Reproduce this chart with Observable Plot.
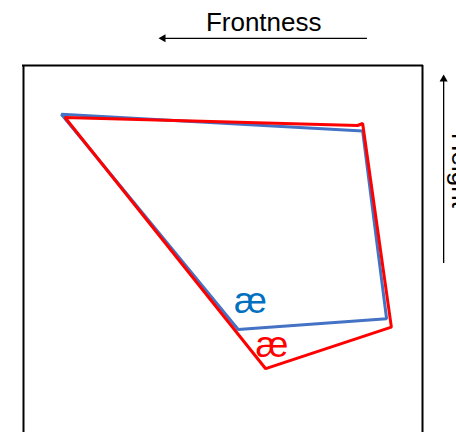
<!DOCTYPE html>
<html>
<head>
<meta charset="utf-8">
<script src="https://cdn.jsdelivr.net/npm/d3@7"></script>
<script src="https://cdn.jsdelivr.net/npm/@observablehq/plot@0.6"></script>
<style>
  html, body { margin: 0; padding: 0; background: #fff; overflow: hidden; }
  svg { font-family: Arial, "Liberation Sans", sans-serif; }
</style>
</head>
<body>
<div id="chart"></div>
<script>
// Vowel space (abstract units: frontness 0–100 left→right, height 0–100 bottom→top)
const blueX = [9.5, 85.0, 91.0, 53.8];
const blueY = [87.8, 83.6, 36.7, 34.0];
const redX  = [10.4, 83.7, 85.0, 92.2, 60.7];
const redY  = [87.0, 85.0, 85.5, 34.6, 24.2];

const vowelLabel = "æ";
const blueLabelPos = [56.9, 41.1];
const redLabelPos  = [62.3, 30.2];

const axisTitles = ["Frontness", "Height"];
// arrow annotations (data units)
const frontArrow = {x1: 86.2, x2: 35.5, y: 106.8};
const heightArrow = {x: 105.3, y1: 50.5, y2: 96.0};

const blue = blueX.map((x, i) => ({x, y: blueY[i]}));
const red = redX.map((x, i) => ({x, y: redY[i]}));

const chart = Plot.plot({
  width: 456,
  height: 432,
  margin: 0,
  x: {domain: [0, 100], range: [23, 422], axis: null},
  y: {domain: [0, 100], range: [465, 65], axis: null},
  marks: [
    // frame (bottom edge lies below the visible area)
    Plot.ruleX([0, 100], {y1: 0, y2: 100, stroke: "#000", strokeWidth: 2}),
    Plot.ruleY([100], {x1: 0, x2: 100, stroke: "#000", strokeWidth: 2, strokeLinecap: "square"}),
    // vowel quadrilaterals
    Plot.line(blue, {x: "x", y: "y", curve: "linear-closed", stroke: "#4472C4", strokeWidth: 3, strokeLinejoin: "miter"}),
    Plot.line(red, {x: "x", y: "y", curve: "linear-closed", stroke: "#FF0000", strokeWidth: 3, strokeLinejoin: "miter"}),
    // labels
    Plot.text([blueLabelPos], {x: d => d[0], y: d => d[1], text: () => vowelLabel, fill: "#0070C0", fontSize: 37}),
    Plot.text([redLabelPos], {x: d => d[0], y: d => d[1], text: () => vowelLabel, fill: "#FF0000", fontSize: 37}),
    // Frontness title + arrow
    Plot.text([axisTitles[0]], {x: 60.2, y: 110.8, text: d => d, fontSize: 26, fill: "#000"}),
    Plot.ruleY([frontArrow], {y: "y", x1: "x1", x2: "x2", stroke: "#000", strokeWidth: 1.3}),
    Plot.dot([frontArrow], {x: 35.0, y: "y", symbol: "triangle", r: 3, fill: "#000", stroke: null, rotate: -90}),
    // Height title + arrow
    Plot.text([axisTitles[1]], {x: 109.6, y: 73.8, text: d => d, fontSize: 26, fill: "#000", rotate: 90}),
    Plot.ruleX([heightArrow], {x: "x", y1: "y1", y2: "y2", stroke: "#000", strokeWidth: 1.3}),
    Plot.dot([heightArrow], {x: "x", y: 96.6, symbol: "triangle", r: 3, fill: "#000", stroke: null})
  ]
});
document.getElementById("chart").appendChild(chart);
</script>
</body>
</html>
